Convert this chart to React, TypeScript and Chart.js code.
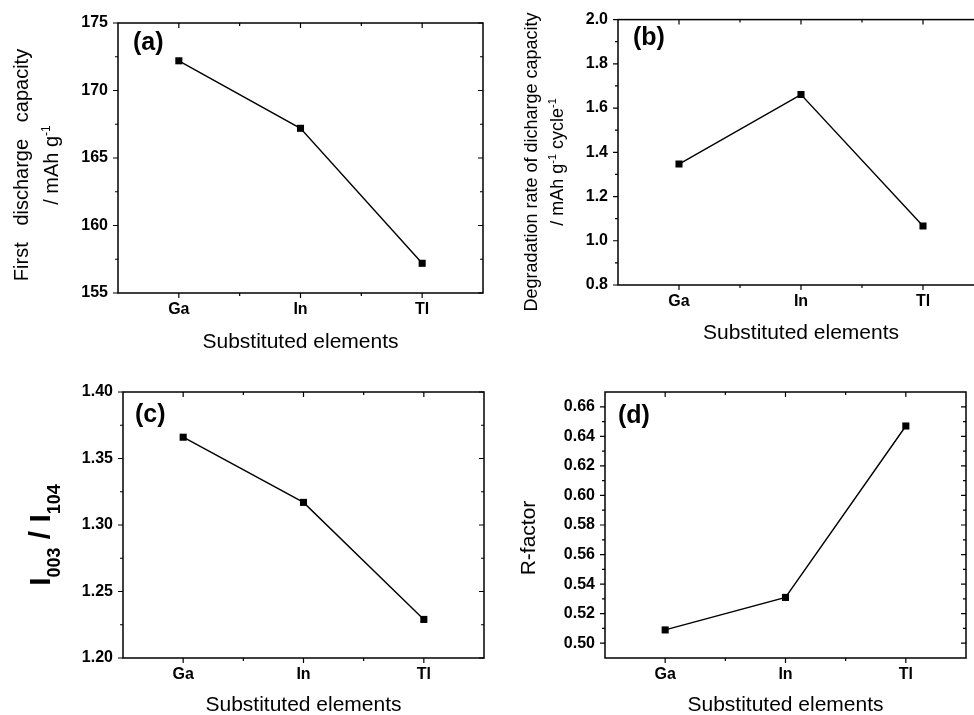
import React, { useEffect, useRef } from 'react';
import { Chart, registerables } from 'chart.js';

Chart.register(...registerables);

const FONT = '"Liberation Sans", Arial, Helvetica, sans-serif';

// ---------- data ----------
const categories = ['Ga', 'In', 'Tl'];
const xAxisTitle = 'Substituted elements';

const capacityValues = [172.2, 167.2, 157.2];
const capacityTicks = [155, 160, 165, 170, 175];
const capacityRange = [155, 175];

const degradationValues = [1.347, 1.661, 1.067];
const degradationTicks = [0.8, 1.0, 1.2, 1.4, 1.6, 1.8, 2.0];
const degradationRange = [0.8, 2.0];

const intensityRatioValues = [1.366, 1.317, 1.229];
const intensityRatioTicks = [1.2, 1.25, 1.3, 1.35, 1.4];
const intensityRatioRange = [1.2, 1.4];

const rFactorValues = [0.509, 0.531, 0.647];
const rFactorTicks = [0.5, 0.52, 0.54, 0.56, 0.58, 0.6, 0.62, 0.64, 0.66];
const rFactorRange = [0.49, 0.67];

const panelLabels = ['(a)', '(b)', '(c)', '(d)'];

// ---------- layout / styling ----------
type Seg = { t: string; s: number; dy?: number; b?: boolean };
type Panel = {
  values: number[];
  ticks: number[];
  range: number[];
  decimals: number;
  canvas: { left: number; top: number; width: number; height: number };
  area: { left: number; top: number; right: number; bottom: number };
  xTitlePad: number;
  yTitle: { lines: Seg[][]; x: number[]; cy: number };
  label: { text: string; x: number; y: number };
};

const panels: Panel[] = [
  {
    values: capacityValues,
    ticks: capacityTicks,
    range: capacityRange,
    decimals: 0,
    canvas: { left: 0, top: 0, width: 490, height: 370 },
    area: { left: 118, top: 23, right: 483, bottom: 293 },
    xTitlePad: 15.5,
    yTitle: {
      lines: [
        [{ t: 'First   discharge   capacity', s: 20 }],
        [{ t: '/ mAh g', s: 20 }, { t: '-1', s: 12, dy: -8 }],
      ],
      x: [28.3, 58.3],
      cy: 165,
    },
    label: { text: panelLabels[0], x: 133, y: 50 },
  },
  {
    values: degradationValues,
    ticks: degradationTicks,
    range: degradationRange,
    decimals: 1,
    canvas: { left: 490, top: 0, width: 500, height: 370 },
    area: { left: 128, top: 16, right: 494, bottom: 285 },
    xTitlePad: 24.5,
    yTitle: {
      lines: [
        [{ t: 'Degradation rate of dicharge capacity', s: 18 }],
        [
          { t: '/ mAh g', s: 18 },
          { t: '-1', s: 11, dy: -7 },
          { t: ' cycle', s: 18 },
          { t: '-1', s: 11, dy: -7 },
        ],
      ],
      x: [46.7, 73],
      cy: 162,
    },
    label: { text: panelLabels[1], x: 143, y: 45 },
  },
  {
    values: intensityRatioValues,
    ticks: intensityRatioTicks,
    range: intensityRatioRange,
    decimals: 2,
    canvas: { left: 0, top: 360, width: 490, height: 370 },
    area: { left: 123, top: 32, right: 484, bottom: 298 },
    xTitlePad: 12.5,
    yTitle: {
      lines: [
        [
          { t: 'I', s: 30, b: true },
          { t: '003', s: 18, b: true, dy: 10 },
          { t: ' / ', s: 30, b: true },
          { t: 'I', s: 30, b: true },
          { t: '104', s: 18, b: true, dy: 10 },
        ],
      ],
      x: [50],
      cy: 175,
    },
    label: { text: panelLabels[2], x: 135, y: 62 },
  },
  {
    values: rFactorValues,
    ticks: rFactorTicks,
    range: rFactorRange,
    decimals: 2,
    canvas: { left: 490, top: 360, width: 490, height: 370 },
    area: { left: 115, top: 32, right: 476, bottom: 298 },
    xTitlePad: 12.5,
    yTitle: {
      lines: [[{ t: 'R-factor', s: 21 }]],
      x: [45],
      cy: 178,
    },
    label: { text: panelLabels[3], x: 128, y: 63 },
  },
];

// ---------- plugins ----------
const MAJOR = 5;
const MINOR = 3;

function minorsOf(majors: number[], min: number, max: number) {
  const out: number[] = [];
  if (majors.length < 2) return out;
  const step = majors[1] - majors[0];
  const cand: number[] = [majors[0] - step / 2];
  for (let i = 0; i < majors.length - 1; i++) cand.push((majors[i] + majors[i + 1]) / 2);
  cand.push(majors[majors.length - 1] + step / 2);
  const eps = step * 1e-3;
  cand.forEach((v) => {
    if (v > min + eps && v < max - eps) out.push(v);
  });
  return out;
}

const framePlugin = {
  id: 'originFrame',
  afterDatasetsDraw(chart: any) {
    const { ctx, chartArea } = chart;
    const { left, right, top, bottom } = chartArea;
    const x = chart.scales.x;
    const y = chart.scales.y;
    ctx.save();
    ctx.strokeStyle = '#000';
    ctx.lineWidth = 1.5;
    ctx.strokeRect(left, top, right - left, bottom - top);
    ctx.beginPath();
    const xMaj = x.ticks.map((t: any) => t.value);
    const xMin = minorsOf(xMaj, x.min, x.max);
    xMaj.forEach((v: number) => {
      const px = x.getPixelForValue(v);
      ctx.moveTo(px, bottom);
      ctx.lineTo(px, bottom + MAJOR);
      ctx.moveTo(px, top);
      ctx.lineTo(px, top + MAJOR);
    });
    xMin.forEach((v: number) => {
      const px = x.getPixelForValue(v);
      ctx.moveTo(px, bottom);
      ctx.lineTo(px, bottom + MINOR);
      ctx.moveTo(px, top);
      ctx.lineTo(px, top + MINOR);
    });
    const yMaj = y.ticks.map((t: any) => t.value);
    const yMin = minorsOf(yMaj, y.min, y.max);
    yMaj.forEach((v: number) => {
      const py = y.getPixelForValue(v);
      ctx.moveTo(left - MAJOR, py);
      ctx.lineTo(left, py);
      ctx.moveTo(right, py);
      ctx.lineTo(right - MAJOR, py);
    });
    yMin.forEach((v: number) => {
      const py = y.getPixelForValue(v);
      ctx.moveTo(left - MINOR, py);
      ctx.lineTo(left, py);
      ctx.moveTo(right, py);
      ctx.lineTo(right - MINOR, py);
    });
    ctx.lineWidth = 1.2;
    ctx.stroke();
    ctx.restore();
  },
};

function segFont(s: Seg) {
  return `${s.b ? 'bold ' : ''}${s.s}px ${FONT}`;
}

function textPlugin(p: Panel) {
  return {
    id: 'panelText',
    afterDraw(chart: any) {
      const ctx = chart.ctx as CanvasRenderingContext2D;
      ctx.save();
      ctx.fillStyle = '#000';
      // rotated y-axis title
      p.yTitle.lines.forEach((segs, li) => {
        let total = 0;
        const widths = segs.map((s) => {
          ctx.font = segFont(s);
          const w = ctx.measureText(s.t).width;
          total += w;
          return w;
        });
        ctx.save();
        ctx.translate(p.yTitle.x[li], p.yTitle.cy);
        ctx.rotate(-Math.PI / 2);
        ctx.textAlign = 'left';
        ctx.textBaseline = 'alphabetic';
        let cx = -total / 2;
        segs.forEach((s, i) => {
          ctx.font = segFont(s);
          ctx.fillText(s.t, cx, s.dy || 0);
          cx += widths[i];
        });
        ctx.restore();
      });
      // panel label
      ctx.font = `bold 25px ${FONT}`;
      ctx.textAlign = 'left';
      ctx.textBaseline = 'alphabetic';
      ctx.fillText(p.label.text, p.label.x, p.label.y);
      ctx.restore();
    },
  };
}

// ---------- components ----------
function PanelChart({ p }: { p: Panel }) {
  const ref = useRef<HTMLCanvasElement>(null);
  useEffect(() => {
    const canvas = ref.current;
    if (!canvas) return;
    const tickFont = { family: FONT, size: 16, weight: 'bold' as const };
    const chart = new Chart(canvas, {
      type: 'line',
      data: {
        datasets: [
          {
            data: p.values.map((v, i) => ({ x: i, y: v })),
            borderColor: '#000',
            borderWidth: 1.4,
            pointStyle: 'rect',
            pointRadius: 5,
            pointHoverRadius: 5,
            pointBackgroundColor: '#000',
            pointBorderColor: '#000',
            pointBorderWidth: 0,
            fill: false,
            tension: 0,
          },
        ],
      },
      options: {
        responsive: false,
        animation: false,
        devicePixelRatio: 1,
        events: [],
        layout: {
          padding: {
            left: 0,
            top: p.area.top,
            right: p.canvas.width - p.area.right,
            bottom: 0,
          },
        },
        plugins: {
          legend: { display: false },
          tooltip: { enabled: false },
        },
        scales: {
          x: {
            type: 'linear',
            min: -0.5,
            max: categories.length - 0.5,
            grid: { display: false, drawTicks: false, tickLength: 0 },
            border: { display: false },
            afterBuildTicks: (s: any) => {
              s.ticks = categories.map((_, i) => ({ value: i }));
            },
            afterFit: (s: any) => {
              s.height = p.canvas.height - p.area.bottom;
            },
            ticks: {
              autoSkip: false,
              maxRotation: 0,
              padding: 7,
              color: '#000',
              font: tickFont,
              callback: (v: any) => categories[Math.round(Number(v))] ?? '',
            },
            title: {
              display: true,
              text: xAxisTitle,
              color: '#000',
              font: { family: FONT, size: 21 },
              padding: { top: 0, bottom: p.xTitlePad },
            },
          },
          y: {
            type: 'linear',
            min: p.range[0],
            max: p.range[1],
            grid: { display: false, drawTicks: false, tickLength: 0 },
            border: { display: false },
            afterBuildTicks: (s: any) => {
              s.ticks = p.ticks.map((v) => ({ value: v }));
            },
            afterFit: (s: any) => {
              s.width = p.area.left;
            },
            ticks: {
              autoSkip: false,
              padding: 10,
              color: '#000',
              font: tickFont,
              callback: (v: any) => Number(v).toFixed(p.decimals),
            },
            title: { display: false },
          },
        },
      } as any,
      plugins: [framePlugin, textPlugin(p)],
    });
    return () => chart.destroy();
  }, [p]);
  return (
    <canvas
      ref={ref}
      width={p.canvas.width}
      height={p.canvas.height}
      style={{
        position: 'absolute',
        left: p.canvas.left,
        top: p.canvas.top,
        width: p.canvas.width,
        height: p.canvas.height,
      }}
    />
  );
}

export default function App() {
  return (
    <div
      style={{
        position: 'fixed',
        left: 0,
        top: 0,
        width: 974,
        height: 715,
        background: '#fff',
        overflow: 'hidden',
      }}
    >
      {panels.map((p, i) => (
        <PanelChart key={i} p={p} />
      ))}
    </div>
  );
}
